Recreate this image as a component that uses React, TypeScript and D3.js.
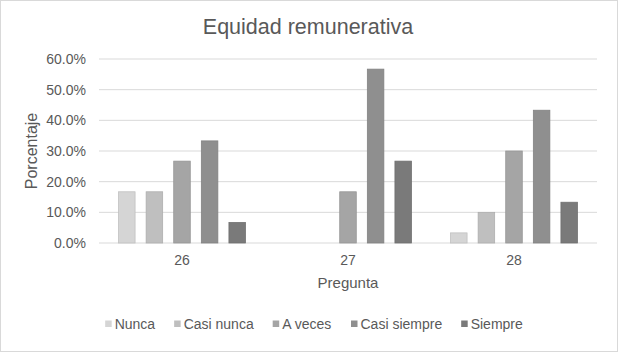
import React from 'react';
import * as d3 from 'd3';

const preguntas = ['26', '27', '28'];
const series = ['Nunca', 'Casi nunca', 'A veces', 'Casi siempre', 'Siempre'];
const colores = ['#d5d5d5', '#bfbfbf', '#a5a5a5', '#8f8f8f', '#7a7a7a'];
// porcentaje por serie, en el orden de preguntas
const nunca = [16.7, 0, 3.3];
const casiNunca = [16.7, 0, 10.0];
const aVeces = [26.7, 16.7, 30.0];
const casiSiempre = [33.3, 56.7, 43.3];
const siempre = [6.7, 26.7, 13.3];
const valores = [nunca, casiNunca, aVeces, casiSiempre, siempre];
const yTicks = [0, 10, 20, 30, 40, 50, 60];

const W = 618;
const H = 352;
const FONT = '"Liberation Sans", Arial, sans-serif';
const TXT = '#595959';

function measure(text: string, size: number) {
  const ctx = document.createElement('canvas').getContext('2d');
  if (!ctx) return text.length * size * 0.55;
  ctx.font = `${size}px ${FONT}`;
  return ctx.measureText(text).width;
}

export default function App() {
  const left = 99;
  const right = 597;
  const top = 59;
  const bottom = 243;

  const x0 = d3.scaleBand<string>().domain(preguntas).range([left, right]);
  const inner = 138;
  const x1 = d3.scaleBand<string>().domain(series)
    .range([(x0.bandwidth() - inner) / 2, (x0.bandwidth() + inner) / 2])
    .paddingInner(0.4).paddingOuter(0.2);
  const y = d3.scaleLinear().domain([0, 60]).range([bottom, top]);

  // legend layout
  const lgSize = 14;
  const sq = 6.5;
  const items = series.map(s => ({ s, w: sq + 3 + measure(s, lgSize) }));
  const gap = 19;
  const total = d3.sum(items, d => d.w) + gap * (items.length - 1);
  let cx = W / 2 + 5 - total / 2;
  const legend = items.map((d, i) => {
    const pos = cx;
    cx += d.w + gap;
    return { ...d, x: pos, c: colores[i] };
  });

  return (
    <svg width={W} height={H} style={{ position: 'absolute', left: 0, top: 0 }} fontFamily={FONT}>
      <rect x={0.5} y={0.5} width={W - 1} height={H - 1} fill="#fff" stroke="#d9d9d9" />
      <text x={308} y={34} textAnchor="middle" fontSize={21.5} fill={TXT}>Equidad remunerativa</text>

      {yTicks.map(t => (
        <g key={t}>
          <line x1={left} x2={right} y1={y(t)} y2={y(t)} stroke="#d9d9d9" strokeWidth={1} />
          <text x={86} y={y(t)} dy="0.35em" textAnchor="end" fontSize={14} fill={TXT}>{t.toFixed(1)}%</text>
        </g>
      ))}

      {valores.map((vals, si) => (
        <g key={series[si]}>
          {vals.map((v, ci) => v > 0 && (
            <rect key={ci}
              x={(x0(preguntas[ci]) ?? 0) + (x1(series[si]) ?? 0)}
              y={y(v)}
              width={x1.bandwidth()}
              height={y(0) - y(v)}
              fill={colores[si]}
              stroke={d3.color(colores[si])!.darker(0.3).toString()}
              strokeWidth={0.75} />
          ))}
        </g>
      ))}

      {preguntas.map(p => (
        <text key={p} x={(x0(p) ?? 0) + x0.bandwidth() / 2} y={265} textAnchor="middle" fontSize={14} fill={TXT}>{p}</text>
      ))}
      <text x={(left + right) / 2} y={288} textAnchor="middle" fontSize={15} fill={TXT}>Pregunta</text>
      <text transform={`translate(37,${(top + bottom) / 2}) rotate(-90)`} textAnchor="middle" fontSize={16} fill={TXT}>Porcentaje</text>

      {legend.map(d => (
        <g key={d.s}>
          <rect x={d.x} y={320.5} width={sq} height={sq} fill={d.c} />
          <text x={d.x + sq + 3} y={324} dy="0.35em" fontSize={lgSize} fill={TXT}>{d.s}</text>
        </g>
      ))}
    </svg>
  );
}
